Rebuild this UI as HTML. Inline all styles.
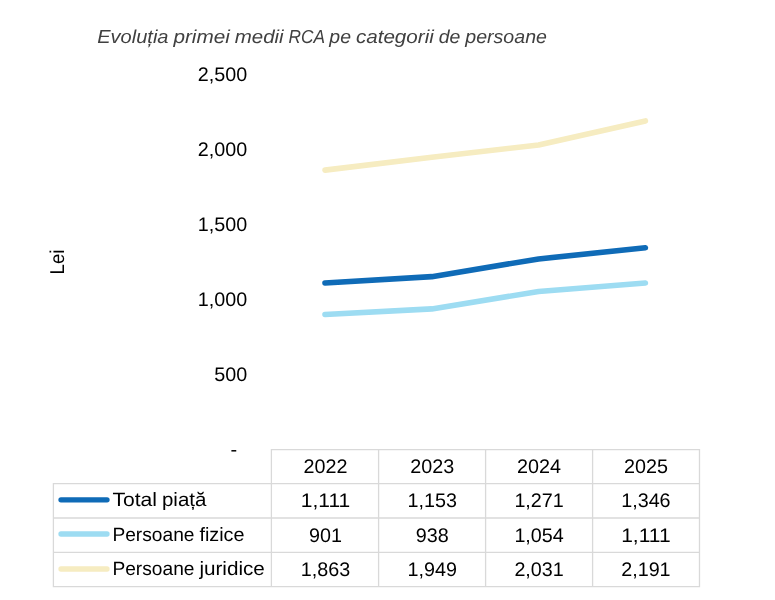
<!DOCTYPE html>
<html lang="ro"><head><meta charset="utf-8"><title>Evoluția primei medii RCA</title>
<style>
html,body{margin:0;padding:0;background:#fff;}
body{width:775px;height:600px;overflow:hidden;}
svg{display:block;text-rendering:geometricPrecision;}
text{font-family:"Liberation Sans",sans-serif;fill:#000;}
.t{font-style:italic;fill:#404040;}
</style></head><body>
<svg width="775" height="600" viewBox="0 0 775 600">
<rect width="775" height="600" fill="#fff"/>
<text class="t" y="43" font-size="18.8"><tspan x="97.20" textLength="71.31" lengthAdjust="spacingAndGlyphs">Evoluția</tspan> <tspan x="173.44" textLength="56.37" lengthAdjust="spacingAndGlyphs">primei</tspan> <tspan x="234.74" textLength="48.89" lengthAdjust="spacingAndGlyphs">medii</tspan> <tspan x="288.56" textLength="35.86" lengthAdjust="spacingAndGlyphs">RCA</tspan> <tspan x="329.35" textLength="21.63" lengthAdjust="spacingAndGlyphs">pe</tspan> <tspan x="355.91" textLength="77.90" lengthAdjust="spacingAndGlyphs">categorii</tspan> <tspan x="438.74" textLength="21.63" lengthAdjust="spacingAndGlyphs">de</tspan> <tspan x="465.30" textLength="81.63" lengthAdjust="spacingAndGlyphs">persoane</tspan></text>
<text x="197.79" y="81" font-size="19.6" textLength="49.41" lengthAdjust="spacingAndGlyphs">2,500</text>
<text x="197.79" y="156" font-size="19.6" textLength="49.41" lengthAdjust="spacingAndGlyphs">2,000</text>
<text x="197.79" y="231" font-size="19.6" textLength="49.41" lengthAdjust="spacingAndGlyphs">1,500</text>
<text x="197.79" y="306" font-size="19.6" textLength="49.41" lengthAdjust="spacingAndGlyphs">1,000</text>
<text x="214.20" y="381" font-size="19.6" textLength="33.00" lengthAdjust="spacingAndGlyphs">500</text>
<text x="230.56" y="456.2" font-size="19.6" textLength="6.64" lengthAdjust="spacingAndGlyphs">-</text>
<text transform="translate(63.7 274.45) rotate(-90)" font-size="20" textLength="24.90" lengthAdjust="spacingAndGlyphs">Lei</text>
<path d="M271.4 449.6H699.5M53.4 483.6H699.5M53.4 518.0H699.5M53.4 552.4H699.5M53.4 586.6H699.5M53.4 483.6V586.6M271.4 449.6V586.6M378.6 449.6V586.6M485.6 449.6V586.6M592.6 449.6V586.6M699.5 449.6V586.6" fill="none" stroke="#D9D9D9" stroke-width="1.3" stroke-linecap="square"/>
<polyline points="325.0,170.15 431.8,157.25 538.6,144.95 645.4,120.95" fill="none" stroke="#F6ECC1" stroke-width="5.6" stroke-linecap="round" stroke-linejoin="round"/>
<polyline points="325.0,314.45 431.8,308.90 538.6,291.50 645.4,282.95" fill="none" stroke="#9DDCF2" stroke-width="5.6" stroke-linecap="round" stroke-linejoin="round"/>
<polyline points="325.0,282.95 431.8,276.65 538.6,258.95 645.4,247.70" fill="none" stroke="#0F6BB7" stroke-width="5.6" stroke-linecap="round" stroke-linejoin="round"/>
<text x="303.50" y="473" font-size="19.6" textLength="43.99" lengthAdjust="spacingAndGlyphs">2022</text>
<text x="410.30" y="473" font-size="19.6" textLength="43.99" lengthAdjust="spacingAndGlyphs">2023</text>
<text x="517.10" y="473" font-size="19.6" textLength="43.99" lengthAdjust="spacingAndGlyphs">2024</text>
<text x="623.90" y="473" font-size="19.6" textLength="43.99" lengthAdjust="spacingAndGlyphs">2025</text>
<line x1="61" y1="499.8" x2="107" y2="499.8" stroke="#0F6BB7" stroke-width="5.3" stroke-linecap="round"/>
<text y="506" font-size="19.3"><tspan x="112.40" textLength="44.66" lengthAdjust="spacingAndGlyphs">Total</tspan> <tspan x="161.97" textLength="44.44" lengthAdjust="spacingAndGlyphs">piață</tspan></text>
<text x="300.80" y="507" font-size="19.6" textLength="49.41" lengthAdjust="spacingAndGlyphs">1,111</text>
<text x="407.60" y="507" font-size="19.6" textLength="49.41" lengthAdjust="spacingAndGlyphs">1,153</text>
<text x="514.40" y="507" font-size="19.6" textLength="49.41" lengthAdjust="spacingAndGlyphs">1,271</text>
<text x="621.20" y="507" font-size="19.6" textLength="49.41" lengthAdjust="spacingAndGlyphs">1,346</text>
<line x1="61" y1="534.0" x2="107" y2="534.0" stroke="#9DDCF2" stroke-width="5.3" stroke-linecap="round"/>
<text y="541" font-size="19.3"><tspan x="112.40" textLength="82.10" lengthAdjust="spacingAndGlyphs">Persoane</tspan> <tspan x="199.40" textLength="45.13" lengthAdjust="spacingAndGlyphs">fizice</tspan></text>
<text x="309.00" y="542" font-size="19.6" textLength="33.00" lengthAdjust="spacingAndGlyphs">901</text>
<text x="415.80" y="542" font-size="19.6" textLength="33.00" lengthAdjust="spacingAndGlyphs">938</text>
<text x="514.40" y="542" font-size="19.6" textLength="49.41" lengthAdjust="spacingAndGlyphs">1,054</text>
<text x="621.20" y="542" font-size="19.6" textLength="49.41" lengthAdjust="spacingAndGlyphs">1,111</text>
<line x1="61" y1="569.0" x2="107" y2="569.0" stroke="#F6ECC1" stroke-width="5.3" stroke-linecap="round"/>
<text y="575" font-size="19.3"><tspan x="112.40" textLength="82.10" lengthAdjust="spacingAndGlyphs">Persoane</tspan> <tspan x="199.40" textLength="65.49" lengthAdjust="spacingAndGlyphs">juridice</tspan></text>
<text x="300.80" y="576" font-size="19.6" textLength="49.41" lengthAdjust="spacingAndGlyphs">1,863</text>
<text x="407.60" y="576" font-size="19.6" textLength="49.41" lengthAdjust="spacingAndGlyphs">1,949</text>
<text x="514.40" y="576" font-size="19.6" textLength="49.41" lengthAdjust="spacingAndGlyphs">2,031</text>
<text x="621.20" y="576" font-size="19.6" textLength="49.41" lengthAdjust="spacingAndGlyphs">2,191</text>
</svg></body></html>
